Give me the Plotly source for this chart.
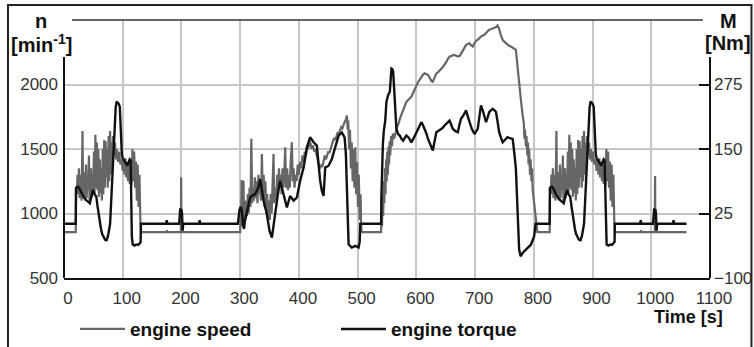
import plotly.graph_objects as go

# ---------------- data ----------------
# engine speed [1/min]  (left axis)
speed_t_a = [0, 20, 20.5, 22, 23, 24, 25.5, 26.5, 28, 29, 30, 31.5, 32.5, 34, 35, 36, 37.5, 38.5, 40, 41,
             42.5, 43.5, 45, 46, 47, 48.5, 49.5, 51, 52, 53.5, 54.5, 56, 57, 58.5, 59.5, 61, 62, 63.5, 64.5,
             66, 67, 68.5, 69.5, 71, 72, 73.5, 74.5, 76, 77, 78.5, 79.5, 81, 82, 83.5, 85, 87, 88.5, 90, 92,
             94, 96, 98, 100, 101.5, 103, 104.5, 106, 107.5, 109, 110.5, 112, 113.5, 115, 116.5, 118, 119.5,
             121, 122.5, 124, 125.5, 127, 128.5, 130, 131, 175, 175.5, 176, 199, 199.5, 200, 201, 201.5, 296]
speed_a = [855, 855, 1200, 1180, 1300, 1150, 1350, 1120, 1150, 1300, 1100, 1640, 1150, 1200, 1320, 1100, 1380,
           1120, 1250, 1180, 1450, 1100, 1200, 1350, 1120, 1300, 1160, 1480, 1150, 1610, 1200, 1550, 1180, 1500,
           1130, 1420, 1160, 1350, 1100, 1500, 1150, 1570, 1200, 1560, 1280, 1500, 1200, 1600, 1250, 1640, 1300,
           1550, 1350, 1600, 1450, 1550, 1420, 1500, 1400, 1480, 1380, 1420, 1330, 1420, 1300, 1430, 1280, 1400,
           1250, 1380, 1230, 1350, 1220, 1500, 1250, 1480, 1200, 1400, 1100, 1380, 1050, 1300, 950, 855, 855,
           870, 855, 855, 1280, 860, 900, 855, 855]

speed_t_b = [300, 300.5, 301.5, 302.5, 303.5, 305, 305.7, 306.5, 308, 310, 311.5, 313, 314.5, 316, 317.5, 319,
             320.5, 322, 323.5, 325, 326.5, 328, 329.5, 331, 332.5, 334, 335.5, 337, 338.5, 340, 341.5, 343,
             344.5, 346, 347.5, 349, 350.5, 352, 353.5, 355, 356.8, 358, 360, 361.5, 363, 364.5, 366, 367.5,
             369, 370.5, 372, 373.5, 375, 376.7, 378, 380, 381.5, 383, 384.5, 386, 388, 389.5, 391, 392.5, 394,
             396, 398, 400, 402, 404, 406, 408, 410, 412, 414, 416, 418, 420, 422, 424, 426, 428, 430, 432, 434,
             436, 438, 440, 442, 444, 446, 448, 450, 452, 454, 456, 458, 460, 462, 464, 466, 468, 470, 472, 474,
             476, 478, 480, 481.8, 483, 484, 485.5, 487, 488.5, 490, 491.5, 493, 494.5, 496, 497.5, 499, 500.5,
             502, 503.5, 505, 506, 507]
speed_b = [855, 1000, 900, 1260, 950, 1050, 1254, 950, 1000, 1100, 980, 1150, 1000, 1200, 1050, 1580, 1080, 1200,
           1100, 1280, 1120, 1250, 1080, 1300, 1150, 1200, 1100, 1461, 1120, 1300, 1050, 1250, 1000, 1150, 960,
           1100, 950, 1150, 1000, 1250, 1461, 1080, 1200, 1100, 1300, 1150, 1350, 1200, 1300, 1150, 1350, 1200,
           1300, 1513, 1200, 1350, 1180, 1300, 1200, 1400, 1552, 1250, 1350, 1200, 1300, 1250, 1380, 1300, 1400,
           1350, 1450, 1400, 1480, 1450, 1530, 1500, 1560, 1540, 1500, 1530, 1480, 1500, 1450, 1400, 1370, 1350,
           1380, 1360, 1400, 1450, 1420, 1460, 1480, 1470, 1510, 1530, 1560, 1580, 1570, 1600, 1630, 1620, 1650,
           1670, 1660, 1690, 1710, 1730, 1759, 1650, 1720, 1500, 1650, 1350, 1550, 1250, 1500, 1200, 1513, 1150,
           1400, 1050, 1300, 950, 1150, 900, 855]

speed_t_c = [540, 540.5, 541.5, 542.5, 543.5, 544.5, 545.5, 546.5, 547.5, 548.5, 549.5, 550.5, 551.5, 552.5,
             553.5, 554.5, 555.5, 557, 558.5, 560, 562, 564, 566, 568, 570, 571.8, 574, 576, 578, 580, 583, 586,
             589, 591.5, 594, 597, 600, 603, 606, 608.5, 611, 614, 617, 620, 623, 626, 628, 630, 632, 634, 637,
             639.5, 642, 645, 648, 651, 654, 656.5, 660, 664, 667, 670.6, 674, 676, 680, 684.7, 688, 690, 693,
             696, 699, 702, 704.5, 707, 710, 713, 715.8, 718.6, 721, 724, 727, 730, 732.8, 735.6, 738.4, 741,
             744, 747, 750, 752.5, 755, 758, 761, 764, 767, 769.5, 772, 775, 778, 781, 783, 784, 785, 786.5,
             787.5, 789, 790, 791, 792, 793.5, 794.5, 796, 797, 798, 800, 803, 806]
speed_c = [855, 1000, 900, 1150, 980, 1250, 1080, 1350, 1150, 1420, 1250, 1480, 1300, 1520, 1380, 1560, 1450,
           1600, 1520, 1620, 1580, 1630, 1650, 1680, 1700, 1734, 1760, 1780, 1800, 1820, 1865, 1880, 1890, 1904,
           1930, 1960, 1995, 2020, 2040, 2060, 2075, 2086, 2080, 2073, 2050, 2025, 2021, 2040, 2070, 2086, 2095,
           2112, 2120, 2135, 2151, 2175, 2200, 2216, 2222, 2229, 2225, 2216, 2222, 2240, 2275, 2307, 2315, 2320,
           2305, 2294, 2320, 2340, 2346, 2360, 2372, 2380, 2385, 2400, 2411, 2424, 2428, 2432, 2437, 2445, 2458,
           2430, 2380, 2346, 2330, 2320, 2310, 2300, 2294, 2285, 2275, 2268, 2150, 1995, 1880, 1760, 1700, 1580,
           1650, 1520, 1600, 1450, 1550, 1380, 1500, 1300, 1420, 1250, 1350, 1188, 1100, 979, 855]

speed_t_d = [827, 827.5, 829, 830, 831, 832.5, 833.5, 835, 836, 837, 838.5, 839.5, 841, 842, 843, 844.5, 845.5,
             847, 848, 849.5, 850.5, 852, 853, 854, 855.5, 856.5, 858, 859, 860.5, 861.5, 863, 864, 865.5,
             866.5, 868, 869, 870.5, 871.5, 873, 874, 875.5, 876.5, 878, 879, 880.5, 881.5, 883, 884, 885.5,
             886.5, 888, 889, 890.5, 892, 894, 895.5, 897, 899, 901, 903, 905, 907, 908.5, 910, 911.5, 913,
             914.5, 916, 917.5, 919, 920.5, 922, 923.5, 925, 926.5, 928, 929.5, 931, 932.5, 934, 935.5, 937,
             938, 982, 982.5, 983, 1006, 1006.5, 1007, 1008, 1008.5, 1060]
speed_d = [855, 1200, 1180, 1300, 1150, 1350, 1120, 1150, 1300, 1100, 1640, 1150, 1200, 1320, 1100, 1380, 1120,
           1250, 1180, 1450, 1100, 1200, 1350, 1120, 1300, 1160, 1480, 1150, 1610, 1200, 1550, 1180, 1500, 1130,
           1420, 1160, 1350, 1100, 1500, 1150, 1570, 1200, 1560, 1280, 1500, 1200, 1600, 1250, 1640, 1300, 1550,
           1350, 1600, 1450, 1550, 1420, 1500, 1400, 1480, 1380, 1420, 1330, 1420, 1300, 1430, 1280, 1400, 1250,
           1380, 1230, 1350, 1220, 1500, 1250, 1480, 1200, 1400, 1100, 1380, 1050, 1300, 950, 855, 855, 870,
           855, 855, 1290, 860, 900, 855, 855]

# engine torque [Nm]  (right axis)
torque_t_a = [0, 20, 20.5, 24, 27, 30, 34, 38, 41, 44, 47, 49.5, 52, 55, 57, 59, 61, 63, 65, 67, 70, 72.5, 75,
              77, 78.5, 80, 81.5, 83, 84.5, 86, 88, 89.5, 91, 93, 95, 96, 97, 98.5, 100, 102, 104, 106, 108,
              110, 112, 113.5, 114.5, 115.5, 117, 120, 123, 126, 129, 130.5, 131, 174, 175, 176, 196, 197, 198,
              199, 200, 201, 202, 203, 230, 231, 232, 296]
torque_a = [5, 5, 75, 77, 72, 64, 56, 51, 47, 45, 60, 71, 62, 58, 40, 22, 6, -5, -15, -21, -26, -27, -18, -5, 5,
            40, 80, 120, 160, 200, 230, 242, 240, 238, 232, 200, 160, 140, 132, 128, 126, 120, 118, 125, 130,
            128, 60, -20, -35, -37, -35, -36, -33, -30, 5, 5, 12, 5, 5, 25, 35, 20, 33, 25, -8, 5, 5, 12, 5, 5]

torque_t_b = [299, 301, 303, 305, 306.5, 308, 311, 314, 317, 321, 325.6, 331, 334, 337, 339.8, 345.4, 350, 354,
              357, 359.6, 365, 368, 373.8, 379.5, 385, 391, 396.6, 402, 408, 413.6, 419, 425, 430.6, 433.5, 436,
              439, 442, 444.8, 450.5, 456, 462, 467.6, 473, 477.8, 480, 481.8, 483, 484.6, 490, 496, 501.6,
              503.5, 504.5, 540]
torque_b = [33, 38, 30, 2, -5, 10, 24, 40, 56, 60, 62.6, 75.5, 91.7, 70, 49.6, 24, -8.7, -21.6, 5, 30, 69, 88.5,
            62, 36.7, 59, 50, 56, 88, 114, 153, 172.7, 163, 156.5, 121, 90, 69, 59, 114, 117.6, 130.6, 153, 176,
            182, 172.7, 140, 82, 20, -34.6, -41, -37.8, -41, -30, 5, 5]

torque_t_c = [540.5, 541.5, 543, 544.5, 547, 549, 552, 554.8, 556, 557.6, 559, 560.5, 562, 563.3, 566, 569,
              571.8, 574.5, 577.4, 580, 583, 587, 591.5, 595, 600, 604, 608.5, 611, 614, 617, 619.8, 624, 628,
              631, 634, 636, 639.5, 644, 648, 652, 656.5, 659, 662, 666, 670.6, 673, 676, 680, 684.7, 687, 690,
              694, 699, 702, 704.5, 707, 710, 713, 715.8, 718.6, 721, 724, 727, 730, 733, 735.6, 738, 741, 744,
              747, 751, 755, 759, 764, 767, 769.5, 772, 775, 777.5, 782, 786.5, 791, 795, 800.6, 803]
torque_c = [60, 112, 160, 184, 205, 241, 255, 261, 290, 306, 305, 300, 270, 248, 189, 179, 176, 170, 166, 171,
            176, 172, 163, 170, 182, 192, 202, 197, 189, 180, 169.5, 158, 147, 165, 182.5, 184, 186, 190, 195.6,
            200, 205, 198, 189, 185, 182.5, 195, 208.6, 215, 225, 215, 202, 190, 179, 184, 189, 210, 234.6, 225,
            215, 202, 210, 221.6, 225, 228, 225, 221.6, 205, 182.5, 172, 163, 168, 172.8, 171, 169.5, 140, 111,
            40, -45, -58, -50, -45, -40, -35.5, -19, 5]

torque_t_d = [827, 827.5, 831, 834, 837, 841, 845, 848, 851, 854, 856.5, 859, 862, 864, 866, 868, 870, 872, 874,
              877, 879.5, 882, 884, 885.5, 887, 888.5, 890, 891.5, 893, 895, 896.5, 898, 900, 902, 903, 904,
              905.5, 907, 909, 911, 913, 915, 917, 919, 920.5, 921.5, 922.5, 924, 927, 930, 933, 936, 937.5, 938,
              981, 982, 983, 1003, 1004, 1005, 1006, 1007, 1008, 1009, 1010, 1037, 1038, 1039, 1060]
torque_d = [5, 75, 77, 72, 64, 56, 51, 47, 45, 60, 71, 62, 58, 40, 22, 6, -5, -15, -21, -26, -27, -18, -5, 5, 40,
            80, 120, 160, 200, 230, 242, 240, 238, 232, 200, 160, 140, 132, 128, 126, 120, 118, 125, 130, 128,
            60, -20, -35, -37, -35, -36, -33, -30, 5, 5, 12, 5, 5, 25, 35, 20, 33, 25, -8, 5, 5, 12, 5, 5]

x_ticks = list(range(0, 1200, 100))
x_grid = list(range(100, 1100, 100))
speed_ticks = [500, 1000, 1500, 2000]
torque_ticks = [-100, 25, 150, 275]

speed_t = speed_t_a + speed_t_b + speed_t_c + speed_t_d
speed_v = speed_a + speed_b + speed_c + speed_d
torque_t = torque_t_a + torque_t_b + torque_t_c + torque_t_d
torque_v = torque_a + torque_b + torque_c + torque_d

# ---------------- figure ----------------
TICK_FONT = dict(family="Liberation Sans, Arial, sans-serif", size=17, color="#333333")
BOLD = "Liberation Sans, Arial, sans-serif"

fig = go.Figure()
fig.add_trace(go.Scatter(x=speed_t, y=speed_v, mode="lines", name="engine speed",
                         line=dict(color="#666666", width=2.2), yaxis="y"))
fig.add_trace(go.Scatter(x=torque_t, y=torque_v, mode="lines", name="engine torque",
                         line=dict(color="#111111", width=2.4), yaxis="y2"))

fig.update_layout(
    width=754, height=347,
    margin=dict(l=64, r=44, t=20, b=69, pad=0, autoexpand=False),
    paper_bgcolor="white", plot_bgcolor="white",
    showlegend=True,
    legend=dict(orientation="h", x=0.017, xanchor="left", y=-0.198, yanchor="middle",
                font=dict(family=BOLD, size=19, color="#111111", weight="bold"),
                entrywidth=201, entrywidthmode="pixels", bgcolor="rgba(0,0,0,0)",
                itemwidth=45),
    xaxis=dict(range=[0, 1100], tickmode="array", tickvals=x_ticks, ticktext=[str(v) for v in x_ticks],
               showgrid=False, zeroline=False, showline=True, linecolor="#111111", linewidth=2,
               ticks="", tickfont=TICK_FONT, ticklabelshift=4, ticklabelstandoff=4,
               minor=dict(tickmode="array", tickvals=x_grid, showgrid=True, gridcolor="#c6c6c6",
                          gridwidth=1.6, ticks="")),
    yaxis=dict(range=[500, 2500], tickmode="array", tickvals=speed_ticks, showgrid=True,
               gridcolor="#c6c6c6", gridwidth=1.6, zeroline=False, showline=False, ticks="",
               tickfont=TICK_FONT, ticklabelstandoff=5),
    yaxis2=dict(range=[-100, 400], tickmode="array", tickvals=torque_ticks, overlaying="y", side="right",
                showgrid=False, zeroline=False, showline=False, ticks="inside", ticklen=11,
                tickwidth=1.5, tickcolor="#111111", tickfont=TICK_FONT, ticklabelstandoff=3),
)

ax_top = (278 - 57) / 258
shapes = [
    # outer frame
    dict(type="rect", xref="paper", yref="paper", x0=-0.0867, x1=1.0642, y0=-0.35, y1=1.058,
         line=dict(color="#222222", width=2), layer="above"),
    # top line
    dict(type="line", xref="paper", yref="paper", x0=0.0124, x1=0.989, y0=1.0, y1=1.0,
         line=dict(color="#333333", width=1.5)),
    # left axis line
    dict(type="line", xref="paper", yref="paper", x0=0, x1=0, y0=0, y1=ax_top,
         line=dict(color="#111111", width=2)),
    # right axis line
    dict(type="line", xref="paper", yref="paper", x0=1, x1=1, y0=0, y1=ax_top,
         line=dict(color="#111111", width=2)),
]
fig.update_layout(shapes=shapes)

ann_font = dict(family=BOLD, size=20, color="#111111", weight="bold")
fig.add_annotation(text="n", xref="paper", yref="paper", x=(41 - 64) / 646, y=(278 - 21) / 258,
                   showarrow=False, font=ann_font, xanchor="center", yanchor="middle")
fig.add_annotation(text="[min<sup>-1</sup>]", xref="paper", yref="paper", x=(41 - 64) / 646,
                   y=(278 - 43) / 258, showarrow=False, font=ann_font, xanchor="center", yanchor="middle")
fig.add_annotation(text="M", xref="paper", yref="paper", x=(729 - 64) / 646, y=(278 - 21) / 258,
                   showarrow=False, font=ann_font, xanchor="center", yanchor="middle")
fig.add_annotation(text="[Nm]", xref="paper", yref="paper", x=(728 - 64) / 646, y=(278 - 43) / 258,
                   showarrow=False, font=ann_font, xanchor="center", yanchor="middle")
fig.add_annotation(text="Time [s]", xref="paper", yref="paper", x=(688 - 64) / 646, y=(278 - 316.5) / 258,
                   showarrow=False, font=dict(family=BOLD, size=18, color="#111111", weight="bold"),
                   xanchor="center", yanchor="middle")

fig.write_html("out.html", config={"displayModeBar": False},
               post_script="document.body.style.margin='0';document.body.style.overflow='hidden';")
